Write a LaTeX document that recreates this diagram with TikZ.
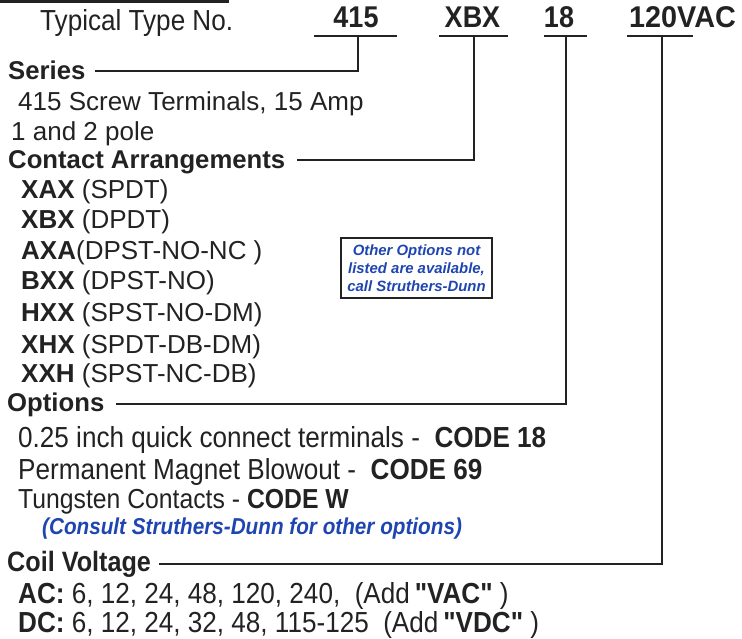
\documentclass[tikz,border=0pt]{standalone}
\usepackage{fontspec}
\setmainfont{Liberation Sans}
\newfontfamily\narrow[FakeStretch=0.9]{Liberation Sans}
\newfontfamily\wide[FakeStretch=0.96]{Liberation Sans}
\definecolor{ink}{HTML}{222222}
\definecolor{optblue}{HTML}{1E45B0}
\begin{document}
\begin{tikzpicture}[x=1pt,y=-1pt,
  txt/.style={anchor=base west,inner sep=0pt,text=ink},
  hdr/.style={txt,font=\fontsize{25.7}{28}\selectfont\bfseries},
  body/.style={txt,font=\fontsize{26}{30}\selectfont},
  nbody/.style={txt,font=\narrow\fontsize{29}{32}\selectfont},
  code/.style={anchor=base,inner sep=0pt,text=ink,font=\narrow\fontsize{30}{34}\selectfont\bfseries},
  rule/.style={draw=ink,line width=1.8pt},
  bar/.style={draw=ink,line width=2.8pt}]
\useasboundingbox (0,0) rectangle (742,638);
% top cut-off rule
\coordinate (tb1) at (0,1.4);
\coordinate (tb2) at (229,1.4);
\draw[bar] (tb1) -- (tb2);
% type number
\node[nbody] (typ) at (40,30) {Typical Type No.};
\node[code] (n415) at (356,27) {415};
\node[code] (nxbx) at (472.5,27) {XBX};
\node[code] (n18) at (559,27) {18};
\node[code,font=\wide\fontsize{30}{34}\selectfont\bfseries] (nvac) at (682.5,27) {120VAC};
% underlines
\coordinate (a1) at (314,36); \coordinate (a2) at (397,36);
\coordinate (b1) at (439,36); \coordinate (b2) at (508,36);
\coordinate (c1) at (544,36); \coordinate (c2) at (587,36);
\coordinate (d1) at (627,36); \coordinate (d2) at (693,36);
\draw[bar] (a1) -- (a2);
\draw[bar] (b1) -- (b2);
\draw[bar] (c1) -- (c2);
\draw[bar] (d1) -- (d2);
\coordinate (av) at (358,36);
\coordinate (bv) at (474,36);
\coordinate (cv) at (566,36);
\coordinate (dv) at (662,36);
% section texts
\node[hdr] (series) at (8,79) {Series};
\node[body] (s1) at (18,110) {415 Screw Terminals, 15 Amp};
\node[body] (s2) at (11,140) {1 and 2 pole};
\node[hdr] (contact) at (8,168) {Contact Arrangements};
\node[body] (k1) at (21,198) {\textbf{XAX} (SPDT)};
\node[body] (k2) at (21,228) {\textbf{XBX} (DPDT)};
\node[body] (k3) at (21,259) {\textbf{AXA}(DPST-NO-NC )};
\node[body] (k4) at (21,289) {\textbf{BXX} (DPST-NO)};
\node[body] (k5) at (21,321) {\textbf{HXX} (SPST-NO-DM)};
\node[body] (k6) at (21,353) {\textbf{XHX} (SPDT-DB-DM)};
\node[body] (k7) at (21,382) {\textbf{XXH} (SPST-NC-DB)};
\node[hdr] (options) at (7,411) {Options};
\node[nbody] (o1) at (18,447) {0.25 inch quick connect terminals -\ \ \textbf{CODE 18}};
\node[nbody] (o2) at (18,479) {Permanent Magnet Blowout -\ \ \textbf{CODE 69}};
\node[txt,font=\narrow\fontsize{27.5}{32}\selectfont] (o3) at (18,508) {Tungsten Contacts - \textbf{CODE W}};
\node[anchor=base west,inner sep=0pt,text=optblue,font=\narrow\fontsize{23}{26}\selectfont\bfseries\itshape] (o4) at (42,534) {(Consult Struthers-Dunn for other options)};
\node[txt,font=\narrow\fontsize{28}{32}\selectfont\bfseries] (coil) at (7,571) {Coil Voltage};
\node[nbody] (v1) at (18,603) {\textbf{AC:} 6, 12, 24, 48, 120, 240,\ \ (Add\,\textbf{"VAC"} )};
\node[nbody] (v2) at (18,632) {\textbf{DC:} 6, 12, 24, 32, 48, 115-125\ \ (Add\,\textbf{"VDC"} )};
% blue note box
\node[draw=ink,line width=1.3pt,inner sep=0pt,minimum width=151pt,minimum height=60pt,
  align=center,text=optblue,font=\fontsize{14.9}{18}\selectfont\bfseries\itshape] (note) at (416.5,268)
  {Other Options not\\listed are available,\\call Struthers-Dunn};
% connectors
\coordinate (sy) at (0,71);
\coordinate (cy) at (0,160);
\coordinate (oy) at (0,404);
\coordinate (vy) at (0,564);
\draw[rule] ([xshift=9pt]series.east |- sy) -- (av |- sy) -- (av);
\draw[rule] ([xshift=12pt]contact.east |- cy) -- (bv |- cy) -- (bv);
\draw[rule] ([xshift=12pt]options.east |- oy) -- (cv |- oy) -- (cv);
\draw[rule] ([xshift=8pt]coil.east |- vy) -- (dv |- vy) -- (dv);
\end{tikzpicture}
\end{document}
